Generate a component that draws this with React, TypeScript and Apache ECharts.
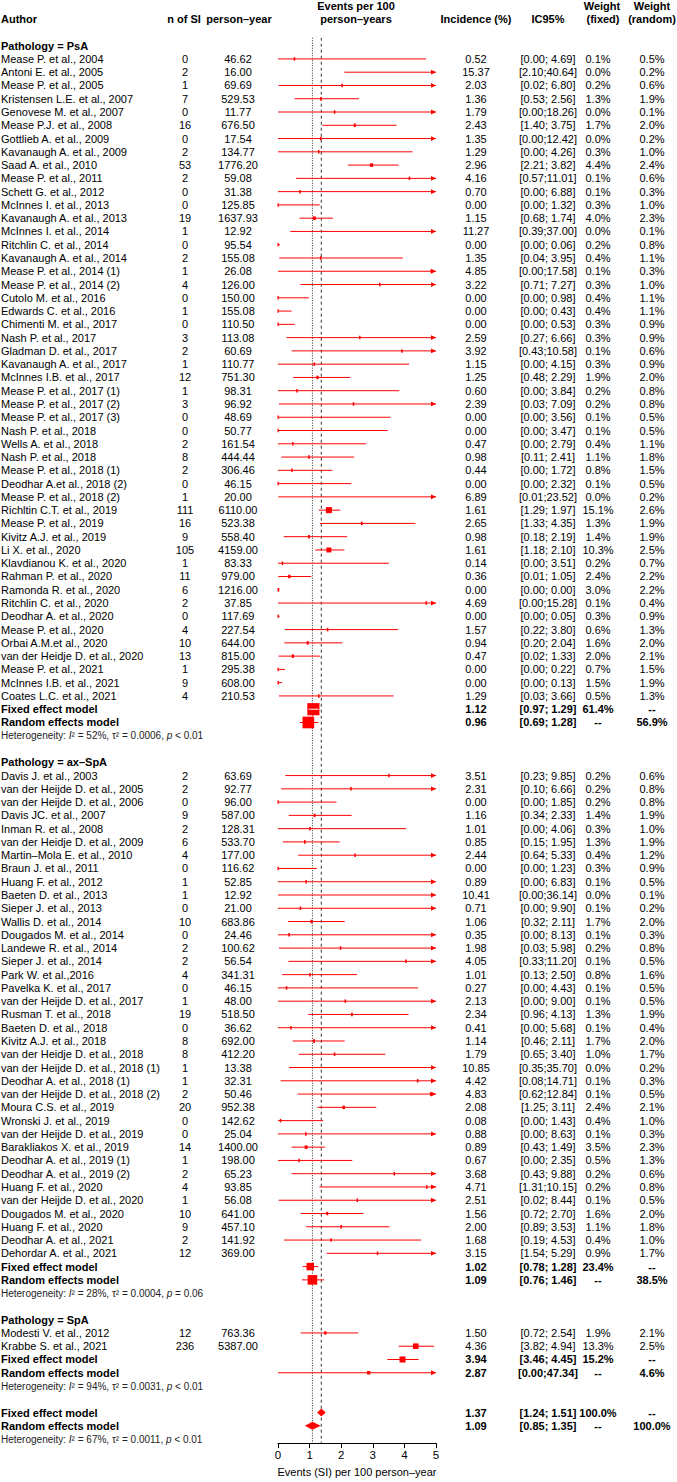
import React, { useEffect, useRef } from "react";
import * as echarts from "echarts";

const FONT = '"Liberation Sans", Arial, Helvetica, sans-serif';
const RED = "#ff0000";

// ---------- PsA ----------
const psaAuthors = ["Mease P. et al., 2004","Antoni E. et al., 2005","Mease P. et al., 2005","Kristensen L.E. et al., 2007","Genovese M. et al., 2007","Mease P.J. et al., 2008","Gottlieb A. et al., 2009","Kavanaugh A. et al., 2009","Saad A. et al., 2010","Mease P. et al., 2011","Schett G. et al., 2012","McInnes I. et al., 2013","Kavanaugh A. et al., 2013","McInnes I. et al., 2014","Ritchlin C. et al., 2014","Kavanaugh A. et al., 2014","Mease P. et al., 2014 (1)","Mease P. et al., 2014 (2)","Cutolo M. et al., 2016","Edwards C. et al., 2016","Chimenti M. et al., 2017","Nash P. et al., 2017","Gladman D. et al., 2017","Kavanaugh A. et al., 2017","McInnes I.B. et al., 2017","Mease P. et al., 2017 (1)","Mease P. et al., 2017 (2)","Mease P. et al., 2017 (3)","Nash P. et al., 2018","Wells A. et al., 2018","Nash P. et al., 2018","Mease P. et al., 2018 (1)","Deodhar A.et al., 2018 (2)","Mease P. et al., 2018 (2)","Richltin C.T. et al., 2019","Mease P. et al., 2019","Kivitz A.J. et al., 2019","Li X. et al., 2020","Klavdianou K. et al., 2020","Rahman P. et al., 2020","Ramonda R. et al., 2020","Ritchlin C. et al., 2020","Deodhar A. et al., 2020","Mease P. et al., 2020","Orbai A.M.et al., 2020","van der Heidje D. et al., 2020","Mease P. et al., 2021","McInnes I.B. et al., 2021","Coates L.C. et al., 2021"];
const psaN = [0,2,1,7,0,16,0,2,53,2,0,0,19,1,0,2,1,4,0,1,0,3,2,1,12,1,3,0,0,2,8,2,0,1,111,16,9,105,1,11,6,2,0,4,10,13,1,9,4];
const psaPY = [46.62,16.00,69.69,529.53,11.77,676.50,17.54,134.77,1776.20,59.08,31.38,125.85,1637.93,12.92,95.54,155.08,26.08,126.00,150.00,155.08,110.50,113.08,60.69,110.77,751.30,98.31,96.92,48.69,50.77,161.54,444.44,306.46,46.15,20.00,6110.00,523.38,558.40,4159.00,83.33,979.00,1216.00,37.85,117.69,227.54,644.00,815.00,295.38,608.00,210.53];
const psaInc = [0.52,15.37,2.03,1.36,1.79,2.43,1.35,1.29,2.96,4.16,0.70,0.00,1.15,11.27,0.00,1.35,4.85,3.22,0.00,0.00,0.00,2.59,3.92,1.15,1.25,0.60,2.39,0.00,0.00,0.47,0.98,0.44,0.00,6.89,1.61,2.65,0.98,1.61,0.14,0.36,0.00,4.69,0.00,1.57,0.94,0.47,0.00,0.00,1.29];
const psaLo = [0.00,2.10,0.02,0.53,0.00,1.40,0.00,0.00,2.21,0.57,0.00,0.00,0.68,0.39,0.00,0.04,0.00,0.71,0.00,0.00,0.00,0.27,0.43,0.00,0.48,0.00,0.03,0.00,0.00,0.00,0.11,0.00,0.00,0.01,1.29,1.33,0.18,1.18,0.00,0.01,0.00,0.00,0.00,0.22,0.20,0.02,0.00,0.00,0.03];
const psaHi = [4.69,40.64,6.80,2.56,18.26,3.75,12.42,4.26,3.82,11.01,6.88,1.32,1.74,37.00,0.06,3.95,17.58,7.27,0.98,0.43,0.53,6.66,10.58,4.15,2.29,3.84,7.09,3.56,3.47,2.79,2.41,1.72,2.32,23.52,1.97,4.35,2.19,2.10,3.51,1.05,0.00,15.28,0.05,3.80,2.04,1.33,0.22,0.13,3.66];
const psaWF = [0.1,0.0,0.2,1.3,0.0,1.7,0.0,0.3,4.4,0.1,0.1,0.3,4.0,0.0,0.2,0.4,0.1,0.3,0.4,0.4,0.3,0.3,0.1,0.3,1.9,0.2,0.2,0.1,0.1,0.4,1.1,0.8,0.1,0.0,15.1,1.3,1.4,10.3,0.2,2.4,3.0,0.1,0.3,0.6,1.6,2.0,0.7,1.5,0.5];
const psaWR = [0.5,0.2,0.6,1.9,0.1,2.0,0.2,1.0,2.4,0.6,0.3,1.0,2.3,0.1,0.8,1.1,0.3,1.0,1.1,1.1,0.9,0.9,0.6,0.9,2.0,0.8,0.8,0.5,0.5,1.1,1.8,1.5,0.5,0.2,2.6,1.9,1.9,2.5,0.7,2.2,2.2,0.4,0.9,1.3,2.0,2.1,1.5,1.9,1.3];

// ---------- ax-SpA ----------
const axAuthors = ["Davis J. et al., 2003","van der Heijde D. et al., 2005","van der Heijde D. et al., 2006","Davis JC. et al., 2007","Inman R. et al., 2008","van der Heidje D. et al., 2009","Martin–Mola E. et al., 2010","Braun J. et al., 2011","Huang F. et al., 2012","Baeten D. et al., 2013","Sieper J. et al., 2013","Wallis D. et al., 2014","Dougados M. et al., 2014","Landewe R. et al., 2014","Sieper J. et al., 2014","Park W. et al.,2016","Pavelka K. et al., 2017","van der Heijde D. et al., 2017","Rusman T. et al., 2018","Baeten D. et al., 2018","Kivitz A.J. et al., 2018","van der Heidje D. et al., 2018","van der Heijde D. et al., 2018 (1)","Deodhar A. et al., 2018 (1)","van der Heijde D. et al., 2018 (2)","Moura C.S. et al., 2019","Wronski J. et al., 2019","van der Heijde D. et al., 2019","Barakliakos X. et al., 2019","Deodhar A. et al., 2019 (1)","Deodhar A. et al., 2019 (2)","Huang F. et al., 2020","van der Heijde D. et al., 2020","Dougados M. et al., 2020","Huang F. et al., 2020","Deodhar A. et al., 2021","Dehordar A. et al., 2021"];
const axN = [2,2,0,9,2,6,4,0,1,1,0,10,0,2,2,4,0,1,19,0,8,8,1,1,2,20,0,0,14,1,2,4,1,10,9,2,12];
const axPY = [63.69,92.77,96.00,587.00,128.31,533.70,177.00,116.62,52.85,12.92,21.00,683.86,24.46,100.62,56.54,341.31,46.15,48.00,518.50,36.62,692.00,412.20,13.38,32.31,50.46,952.38,142.62,25.04,1400.00,198.00,65.23,93.85,56.08,641.00,457.10,141.92,369.00];
const axInc = [3.51,2.31,0.00,1.16,1.01,0.85,2.44,0.00,0.89,10.41,0.71,1.06,0.35,1.98,4.05,1.01,0.27,2.13,2.34,0.41,1.14,1.79,10.85,4.42,4.83,2.08,0.08,0.88,0.89,0.67,3.68,4.71,2.51,1.56,2.00,1.68,3.15];
const axLo = [0.23,0.10,0.00,0.34,0.00,0.15,0.64,0.00,0.00,0.00,0.00,0.32,0.00,0.03,0.33,0.13,0.00,0.00,0.96,0.00,0.46,0.65,0.35,0.08,0.62,1.25,0.00,0.00,0.43,0.00,0.43,1.31,0.02,0.72,0.89,0.19,1.54];
const axHi = [9.85,6.66,1.85,2.33,4.06,1.95,5.33,1.23,6.83,36.14,9.90,2.11,8.13,5.98,11.20,2.50,4.43,9.00,4.13,5.68,2.11,3.40,35.70,14.71,12.84,3.11,1.43,8.63,1.49,2.35,9.88,10.15,8.44,2.70,3.53,4.53,5.29];
const axWF = [0.2,0.2,0.2,1.4,0.3,1.3,0.4,0.3,0.1,0.0,0.1,1.7,0.1,0.2,0.1,0.8,0.1,0.1,1.3,0.1,1.7,1.0,0.0,0.1,0.1,2.4,0.4,0.1,3.5,0.5,0.2,0.2,0.1,1.6,1.1,0.4,0.9];
const axWR = [0.6,0.8,0.8,1.9,1.0,1.9,1.2,0.9,0.5,0.1,0.2,2.0,0.3,0.8,0.5,1.6,0.5,0.5,1.9,0.4,2.0,1.7,0.2,0.3,0.5,2.1,1.0,0.3,2.3,1.3,0.6,0.8,0.5,2.0,1.8,1.0,1.7];

// ---------- SpA ----------
const spaAuthors = ["Modesti V. et al., 2012","Krabbe S. et al., 2021"];
const spaN = [12,236];
const spaPY = [763.36,5387.00];
const spaInc = [1.50,4.36];
const spaLo = [0.72,3.82];
const spaHi = [2.54,4.94];
const spaWF = [1.9,13.3];
const spaWR = [2.1,2.5];

// ---------- subgroup summaries ----------
const groupLabels = ["Pathology = PsA","Pathology = ax–SpA","Pathology = SpA"];
const fixedInc = [1.12,1.02,3.94];
const fixedLo = [0.97,0.78,3.46];
const fixedHi = [1.29,1.28,4.45];
const fixedW = [61.4,23.4,15.2];
const randomInc = [0.96,1.09,2.87];
const randomLo = [0.69,0.76,0.00];
const randomHi = [1.28,1.46,47.34];
const randomW = [56.9,38.5,4.6];
const hetI2 = [52,28,94];
const hetTau2 = ["0.0006","0.0004","0.0031"];
const hetP = ["< 0.01","= 0.06","< 0.01"];

// ---------- overall ----------
const overallFixed = [1.37,1.24,1.51];
const overallRandom = [1.09,0.85,1.35];
const overallHet = { i2: 67, tau2: "0.0011", p: "< 0.01" };

// x-axis ticks
const xTicks = [0,1,2,3,4,5];

const groups = [
  { authors: psaAuthors, n: psaN, py: psaPY, inc: psaInc, lo: psaLo, hi: psaHi, wf: psaWF, wr: psaWR },
  { authors: axAuthors, n: axN, py: axPY, inc: axInc, lo: axLo, hi: axHi, wf: axWF, wr: axWR },
  { authors: spaAuthors, n: spaN, py: spaPY, inc: spaInc, lo: spaLo, hi: spaHi, wf: spaWF, wr: spaWR },
];

function buildRows() {
  const rows: any[] = [];
  rows.push({ row: -3, kind: "h1" });
  rows.push({ row: -2, kind: "h2" });
  let r = 0;
  groups.forEach((g, gi) => {
    rows.push({ row: r++, kind: "group", label: groupLabels[gi] });
    g.authors.forEach((a, i) => {
      rows.push({ row: r++, kind: "study", label: a, n: g.n[i], py: g.py[i], inc: g.inc[i], lo: g.lo[i], hi: g.hi[i], wf: g.wf[i], wr: g.wr[i], w: g.wf[i] });
    });
    rows.push({ row: r++, kind: "fixed", label: "Fixed effect model", inc: fixedInc[gi], lo: fixedLo[gi], hi: fixedHi[gi], wf: fixedW[gi], wr: null, w: fixedW[gi] });
    rows.push({ row: r++, kind: "random", label: "Random effects model", inc: randomInc[gi], lo: randomLo[gi], hi: randomHi[gi], wf: null, wr: randomW[gi], w: randomW[gi] });
    rows.push({ row: r++, kind: "het", i2: hetI2[gi], tau2: hetTau2[gi], p: hetP[gi] });
    r++;
  });
  rows.push({ row: r++, kind: "ofixed", label: "Fixed effect model", inc: overallFixed[0], lo: overallFixed[1], hi: overallFixed[2], wf: 100, wr: null });
  rows.push({ row: r++, kind: "orandom", label: "Random effects model", inc: overallRandom[0], lo: overallRandom[1], hi: overallRandom[2], wf: null, wr: 100 });
  rows.push({ row: r++, kind: "het", i2: overallHet.i2, tau2: overallHet.tau2, p: overallHet.p });
  return rows;
}

const ROWS = buildRows();
const Y_MIN = -0.6;
const Y_MAX = 105.3;
const ROW_H = 13.35;
const GRID_TOP = 45.7 + Y_MIN * ROW_H;

const COL = { author: 1, n: 185, py: 238, inc: 476, ci: 548, wf: 598, wr: 652 };

const fmtCI = (lo: number, hi: number) => `[${lo.toFixed(2)};${hi < 10 ? " " : ""}${hi.toFixed(2)}]`;
const fmtW = (w: number | null) => (w === null ? "--" : `${w.toFixed(1)}%`);

function renderItem(params: any, api: any) {
  const d = ROWS[params.dataIndex];
  const y = api.coord([0, d.row])[1];
  const px = (v: number) => api.coord([v, d.row])[0];
  const x0 = px(0);
  const x5 = px(5);
  const ch: any[] = [];
  const text = (t: string, x: number, align: string, bold = false, size = 11) => {
    ch.push({
      type: "text",
      style: {
        text: t, x, y, fill: "#000", fontSize: size, fontFamily: FONT,
        fontWeight: bold ? "bold" : "normal",
        align, verticalAlign: "middle", textAlign: align, textVerticalAlign: "middle",
      },
    });
  };
  const drawCI = (inc: number, lo: number, hi: number, w: number) => {
    const a = px(Math.max(lo, 0));
    const b = px(Math.min(hi, 5));
    if (b > a) ch.push({ type: "line", shape: { x1: a, y1: y, x2: b, y2: y }, style: { stroke: RED, lineWidth: 1 } });
    if (hi > 5) {
      ch.push({ type: "polygon", shape: { points: [[x5, y], [x5 - 5, y - 2.4], [x5 - 5, y + 2.4]] }, style: { fill: RED } });
    }
    if (inc >= 0 && inc <= 5) {
      const s = 1.55 * Math.sqrt(w);
      const sw = Math.max(s, 1.5);
      const sh = Math.max(s, 3.5);
      const cx = px(inc);
      const left = Math.max(cx - sw / 2, x0 - 0.5);
      const right = cx + sw / 2;
      ch.push({ type: "rect", shape: { x: left, y: y - sh / 2, width: right - left, height: sh }, style: { fill: RED } });
      if (hi > lo && px(lo) >= cx - s / 2 && px(hi) <= cx + s / 2) {
        ch.push({ type: "line", shape: { x1: px(lo), y1: y, x2: px(hi), y2: y }, style: { stroke: "#fff", lineWidth: 1 } });
      }
    }
  };

  switch (d.kind) {
    case "h1":
      text("Events per 100", 356, "center", true);
      text("Weight", 602, "center", true);
      text("Weight", 652, "center", true);
      break;
    case "h2":
      text("Author", COL.author, "left", true);
      text("n of SI", 184, "center", true);
      text("person–year", 239, "center", true);
      text("person–years", 356, "center", true);
      text("Incidence (%)", 476, "center", true);
      text("IC95%", 548, "center", true);
      text("(fixed)", 603, "center", true);
      text("(random)", 652, "center", true);
      break;
    case "group":
      text(d.label, COL.author, "left", true);
      break;
    case "study":
      text(d.label, COL.author, "left");
      text(String(d.n), COL.n, "center");
      text(d.py.toFixed(2), COL.py, "center");
      text(d.inc.toFixed(2), COL.inc, "center");
      text(fmtCI(d.lo, d.hi), COL.ci, "center");
      text(fmtW(d.wf), COL.wf, "center");
      text(fmtW(d.wr), COL.wr, "center");
      drawCI(d.inc, d.lo, d.hi, d.w);
      break;
    case "fixed":
    case "random":
      text(d.label, COL.author, "left", true);
      text(d.inc.toFixed(2), COL.inc, "center", true);
      text(fmtCI(d.lo, d.hi), COL.ci, "center", true);
      text(fmtW(d.wf), COL.wf, "center", true);
      text(fmtW(d.wr), COL.wr, "center", true);
      drawCI(d.inc, d.lo, d.hi, d.w);
      break;
    case "ofixed":
    case "orandom": {
      text(d.label, COL.author, "left", true);
      text(d.inc.toFixed(2), COL.inc, "center", true);
      text(fmtCI(d.lo, d.hi), COL.ci, "center", true);
      text(fmtW(d.wf), COL.wf, "center", true);
      text(fmtW(d.wr), COL.wr, "center", true);
      const h = 4;
      ch.push({
        type: "polygon",
        shape: { points: [[px(d.lo), y], [px(d.inc), y - h], [px(d.hi), y], [px(d.inc), y + h]] },
        style: { fill: RED },
      });
      break;
    }
    case "het":
      ch.push({
        type: "text",
        style: {
          text: `Heterogeneity: {i|I}² = ${d.i2}%, τ² = ${d.tau2}, {i|p} ${d.p}`,
          x: 1, y, fill: "#222", fontSize: 10, fontFamily: FONT,
          align: "left", verticalAlign: "middle", textAlign: "left", textVerticalAlign: "middle",
          rich: { i: { fontStyle: "italic", fontSize: 10, fontFamily: FONT, fill: "#222" } },
        },
      });
      break;
  }
  return { type: "group", children: ch };
}

export default function App() {
  const ref = useRef<HTMLDivElement>(null);
  useEffect(() => {
    if (!ref.current) return;
    const chart = echarts.init(ref.current, null, { renderer: "svg" });
    const option: any = {
      animation: false,
      backgroundColor: "#fff",
      grid: { left: 278, width: 158, top: GRID_TOP, height: (Y_MAX - Y_MIN) * ROW_H, containLabel: false },
      xAxis: {
        type: "value", min: xTicks[0], max: xTicks[xTicks.length - 1], interval: 1, position: "bottom",
        axisLine: { show: true, onZero: false, lineStyle: { color: "#000", width: 1 } },
        axisTick: { show: true, inside: false, length: 5, lineStyle: { color: "#000", width: 1 } },
        axisLabel: { color: "#000", fontSize: 11.5, fontFamily: FONT, margin: 6 },
        splitLine: { show: false },
        name: "Events (SI) per 100 person–year",
        nameLocation: "middle", nameGap: 17,
        nameTextStyle: { color: "#000", fontSize: 11, fontFamily: FONT },
      },
      yAxis: { type: "value", min: Y_MIN, max: Y_MAX, inverse: true, show: false },
      series: [
        {
          type: "line", silent: true, showSymbol: false, symbol: "none", z: 2,
          data: [[overallRandom[0], Y_MIN], [overallRandom[0], Y_MAX]],
          lineStyle: { color: "#333", width: 1, type: [1, 1.5], opacity: 1 },
        },
        {
          type: "line", silent: true, showSymbol: false, symbol: "none", z: 2,
          data: [[overallFixed[0], Y_MIN], [overallFixed[0], Y_MAX]],
          lineStyle: { color: "#000", width: 0.8, type: [3, 3] },
        },
        {
          type: "custom", z: 3, clip: false, silent: true,
          renderItem,
          encode: { x: 0, y: 1 },
          data: ROWS.map((r) => [0, r.row]),
        },
      ],
    };
    chart.setOption(option);
    return () => chart.dispose();
  }, []);
  return (
    <div
      ref={ref}
      style={{ position: "absolute", left: 0, top: 0, width: 677, height: 1482, background: "#fff" }}
    />
  );
}
